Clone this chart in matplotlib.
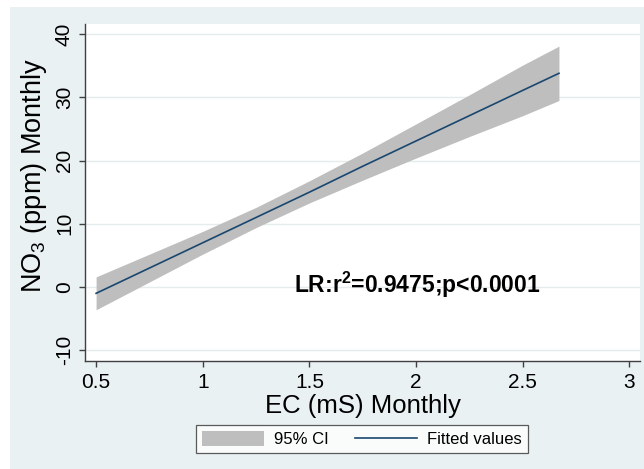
import matplotlib
matplotlib.use("Agg")
import matplotlib.pyplot as plt
from matplotlib.patches import Rectangle

plt.rcParams['font.family'] = ['Liberation Sans', 'DejaVu Sans']
plt.rcParams['mathtext.fontset'] = 'custom'
plt.rcParams['mathtext.rm'] = 'Liberation Sans'
plt.rcParams['mathtext.bf'] = 'Liberation Sans:bold'

# linear fit of monthly nitrate on conductivity, with 95% band
ec = [0.5, 0.75, 1.0, 1.25, 1.5, 1.75, 2.0, 2.25, 2.5, 2.67]
fitted = [-1.0, 3.0, 7.0, 11.0, 15.0, 19.1, 23.1, 27.1, 31.1, 33.8]
ci_low = [-3.6, 0.8, 5.2, 9.4, 13.3, 16.9, 20.4, 23.8, 27.1, 29.5]
ci_high = [1.6, 5.2, 8.8, 12.6, 16.8, 21.2, 25.8, 30.4, 35.1, 38.1]

xticks = [0.5, 1, 1.5, 2, 2.5, 3]
xtick_labels = ['0.5', '1', '1.5', '2', '2.5', '3']
yticks = [-10, 0, 10, 20, 30, 40]
stats_label = r'LR:r$^{\mathbf{2}}$=0.9475;p<0.0001'

bg = '#EAF1F3'
navy = '#1A476F'
band = '#BEBEBE'

fig = plt.figure(figsize=(6.44, 4.69), dpi=100)
fig.patch.set_facecolor('white')
fig.patches.append(Rectangle((10 / 644, 0), 1, 1 - 7 / 469, transform=fig.transFigure,
                             facecolor=bg, edgecolor='none', zorder=-10))

ax = fig.add_axes([85 / 644, 1 - 361 / 469, 555 / 644, 337 / 469])
ax.set_facecolor('white')

ax.fill_between(ec, ci_low, ci_high, color=band, linewidth=0, label='95% CI')
ax.plot(ec, fitted, color=navy, linewidth=1.2, label='Fitted values')

ax.set_xlim(0.448, 3.05)
ax.set_ylim(-11.7, 41.6)
ax.set_xticks(xticks)
ax.set_xticklabels(xtick_labels)
ax.set_yticks(yticks)
ax.set_yticklabels([str(v) for v in yticks], rotation=90, va='center')

ax.grid(axis='y', color='#E4ECEE', linewidth=1.0)
ax.set_axisbelow(True)
for side in ['top', 'right']:
    ax.spines[side].set_visible(False)
for side in ['left', 'bottom']:
    ax.spines[side].set_color('#404040')
    ax.spines[side].set_linewidth(1.0)
ax.tick_params(axis='both', colors='#404040', labelcolor='black', labelsize=15,
               length=4, width=1.0)
ax.tick_params(axis='x', pad=5)
ax.tick_params(axis='y', pad=4)

ax.set_xlabel('EC (mS) Monthly', fontsize=18.5, labelpad=1)
ax.set_ylabel(r'NO$_3$ (ppm) Monthly', fontsize=19.5)
ax.yaxis.set_label_coords(-0.064, 0.55)

ax.text(1.43, 0.4, stats_label, fontsize=16.5, fontweight='bold', ha='left', va='center')

leg = fig.legend(loc='center', bbox_to_anchor=(362 / 644, 1 - 439 / 469), ncol=2,
                 fontsize=12, frameon=True, fancybox=False, handlelength=3.7,
                 handleheight=1.0, handletextpad=0.6, columnspacing=1.6, borderpad=0.35)
leg.get_frame().set_edgecolor('#333333')
leg.get_frame().set_linewidth(0.9)

fig.savefig('out.png', dpi=100, facecolor=fig.get_facecolor())
